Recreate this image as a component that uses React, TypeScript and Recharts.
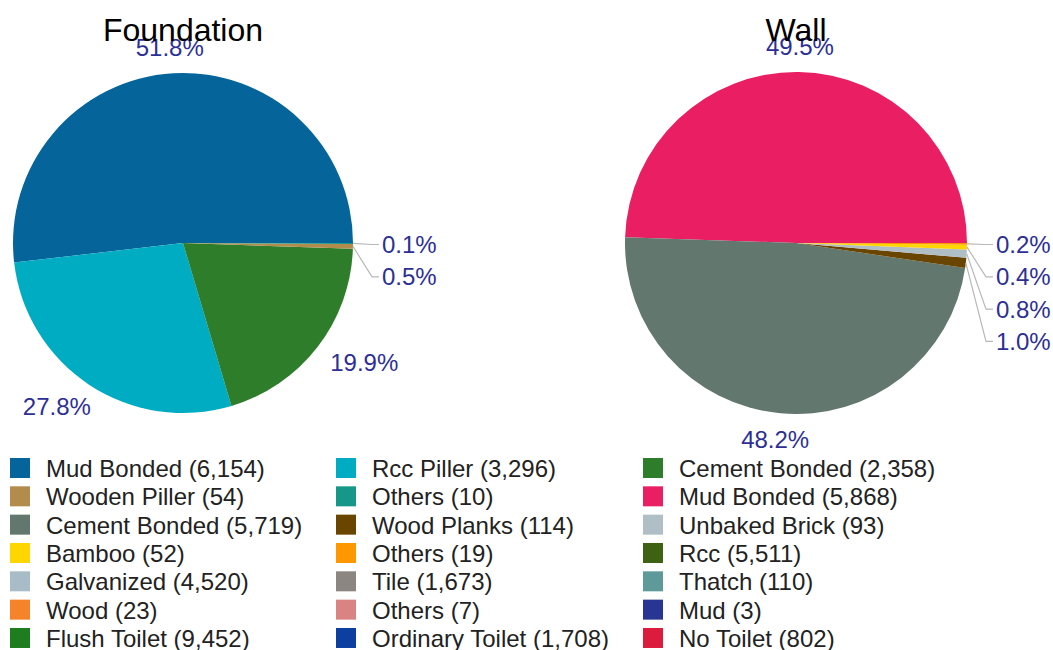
import React from 'react';
import { PieChart, Pie, Cell } from 'recharts';

const FONT = "'Liberation Sans', Arial, Helvetica, sans-serif";
const LABEL_COLOR = '#2d2f96';

const foundationCategories = ['Mud Bonded', 'Rcc Piller', 'Cement Bonded', 'Wooden Piller', 'Others'];
const foundationValues = [6154, 3296, 2358, 54, 10];
const foundationColors = ['#05659a', '#00acc1', '#2e7d2a', '#b38b4d', '#16978a'];

const wallCategories = ['Mud Bonded', 'Cement Bonded', 'Wood Planks', 'Unbaked Brick', 'Bamboo', 'Others'];
const wallValues = [5868, 5719, 114, 93, 52, 19];
const wallColors = ['#e91e63', '#62776d', '#6a4500', '#b0bec5', '#ffd600', '#ff9800'];

const roofCategories = ['Rcc', 'Galvanized', 'Tile', 'Thatch', 'Wood', 'Others', 'Mud'];
const roofValues = [5511, 4520, 1673, 110, 23, 7, 3];
const roofColors = ['#3f6212', '#a7bcc7', '#8b8682', '#5f9a9a', '#f5832a', '#d98383', '#283593'];

const toiletCategories = ['Flush Toilet', 'Ordinary Toilet', 'No Toilet'];
const toiletValues = [9452, 1708, 802];
const toiletColors = ['#1e7d1e', '#0d3fa0', '#dc1c3c'];

const titles = ['Foundation', 'Wall'];

const CHAR_W: Record<string, number> = { '.': 0.278, '%': 0.889 };
const textWidth = (s: string, fs: number) =>
  s.split('').reduce((a, c) => a + (CHAR_W[c] ?? 0.556), 0) * fs;

const LABEL_FS = 24;

function makeLabel(values: number[]) {
  const total = values.reduce((a, b) => a + b, 0);
  return (props: any) => {
    const { cx, cy, midAngle, outerRadius, index } = props;
    const pct = values[index] / total;
    const text = (pct * 100).toFixed(1) + '%';
    const rad = Math.PI / 180;
    const cos = Math.cos(midAngle * rad);
    const sin = Math.sin(midAngle * rad);
    if (pct < 0.02) {
      const rank = values.filter((v, i) => i > index && v / total < 0.02).length;
      const tx = cx + outerRadius + 29;
      const base = cy + 10 + rank * 32.3;
      const ly = base - 8.5;
      const ex = cx + outerRadius * cos;
      const ey = cy - outerRadius * sin;
      return (
        <g key={`lbl-${index}`}>
          <path d={`M${ex},${ey}L${tx - 10},${ly}L${tx - 3},${ly}`} stroke="#b8b8b8" strokeWidth={1.2} fill="none" />
          <text x={tx} y={base} fill={LABEL_COLOR} fontSize={LABEL_FS} fontFamily={FONT} textAnchor="start">
            {text}
          </text>
        </g>
      );
    }
    const R = outerRadius + 17;
    const w = textWidth(text, LABEL_FS);
    const h = 18;
    const centerX = cx + R * cos + (w / 2 + 8) * cos;
    const centerY = cy - R * sin - (h / 2) * sin;
    return (
      <text key={`lbl-${index}`} x={centerX} y={centerY + 8.5} fill={LABEL_COLOR} fontSize={LABEL_FS} fontFamily={FONT} textAnchor="middle">
        {text}
      </text>
    );
  };
}

const toData = (cats: string[], vals: number[]) => cats.map((c, i) => ({ name: c, value: vals[i] }));

const legendLabels = [...foundationCategories, ...wallCategories, ...roofCategories, ...toiletCategories];
const legendValues = [...foundationValues, ...wallValues, ...roofValues, ...toiletValues];
const legendColors = [...foundationColors, ...wallColors, ...roofColors, ...toiletColors];

const PIES = [
  { cx: 183, cy: 243, r: 170 },
  { cx: 796, cy: 243, r: 171 },
];

export default function App() {
  const colX = [10, 336, 643];
  const rowTop = 458;
  const rowStep = 28.33;
  return (
    <div style={{ position: 'absolute', left: 0, top: 0, width: 1053, height: 650, background: '#fff', overflow: 'hidden' }}>
      <div style={{ position: 'absolute', left: 0, top: 0 }}>
        <PieChart width={1053} height={650} margin={{ top: 0, right: 0, bottom: 0, left: 0 }}>
          <Pie
            data={toData(foundationCategories, foundationValues)}
            dataKey="value"
            nameKey="name"
            cx={PIES[0].cx}
            cy={PIES[0].cy}
            outerRadius={PIES[0].r}
            startAngle={0}
            endAngle={360}
            stroke="none"
            isAnimationActive={false}
            labelLine={false}
            label={makeLabel(foundationValues)}
          >
            {foundationColors.map((c, i) => (
              <Cell key={i} fill={c} />
            ))}
          </Pie>
          <Pie
            data={toData(wallCategories, wallValues)}
            dataKey="value"
            nameKey="name"
            cx={PIES[1].cx}
            cy={PIES[1].cy}
            outerRadius={PIES[1].r}
            startAngle={0}
            endAngle={360}
            stroke="none"
            isAnimationActive={false}
            labelLine={false}
            label={makeLabel(wallValues)}
          >
            {wallColors.map((c, i) => (
              <Cell key={i} fill={c} />
            ))}
          </Pie>
        </PieChart>
      </div>
      <svg width={1053} height={650} style={{ position: 'absolute', left: 0, top: 0, pointerEvents: 'none' }}>
        {titles.map((t, i) => (
          <text key={t} x={PIES[i].cx} y={41} textAnchor="middle" fontSize={32} fontFamily={FONT} fill="#000">
            {t}
          </text>
        ))}
        {legendLabels.map((lab, i) => {
          const col = i % 3;
          const row = Math.floor(i / 3);
          const x = colX[col];
          const y = rowTop + row * rowStep;
          return (
            <g key={i}>
              <rect x={x} y={y} width={20} height={20} fill={legendColors[i]} />
              <text x={x + 36} y={y + 19} fontSize={24} fontFamily={FONT} fill="#222">
                {`${lab} (${legendValues[i].toLocaleString('en-US')})`}
              </text>
            </g>
          );
        })}
      </svg>
    </div>
  );
}
